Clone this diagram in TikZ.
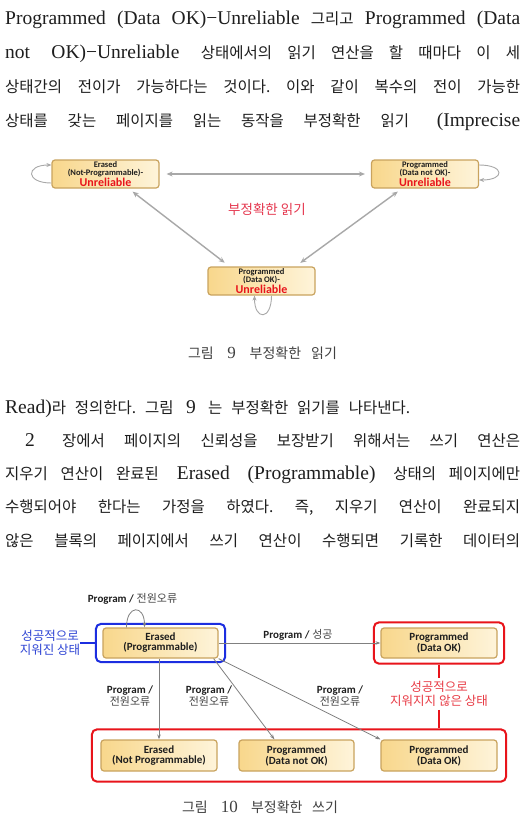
\documentclass[tikz,border=0pt]{standalone}
\usepackage{fontspec}
\setmainfont{Liberation Serif}
\newfontfamily\ko{Noto Sans CJK KR}
\newfontfamily\fig{Carlito}
\usetikzlibrary{arrows.meta,fit,calc}
\definecolor{txt}{HTML}{1E1E1E}
\definecolor{boxL}{HTML}{F8D78C}
\definecolor{boxR}{HTML}{FEF4DA}
\definecolor{boxE}{HTML}{C9A35E}
\definecolor{unrel}{HTML}{E8141B}
\definecolor{pinkred}{HTML}{E5364E}
\definecolor{arrg}{HTML}{A8A8A8}
\definecolor{arrd}{HTML}{808080}
\definecolor{frblue}{HTML}{1C2EE0}
\definecolor{txblue}{HTML}{2E44D4}
\definecolor{frred}{HTML}{E8141B}
\definecolor{txred}{HTML}{E83A44}
\definecolor{kgray}{HTML}{444444}
\newcommand\K[1]{{\ko\fontsize{15.5}{18}\selectfont #1}}
\newcommand\KC[1]{{\ko\fontsize{14}{16}\selectfont #1}}
\newcommand\PG{{\fig\bfseries Program /}}
\frenchspacing
\begin{document}
\begin{tikzpicture}[x=1pt,y=-1pt,
 body/.style={anchor=base west, inner sep=0pt, text=txt, font=\fontsize{19.5}{20}\selectfont},
 capt/.style={anchor=base, inner sep=0pt, text=txt!85, font=\fontsize{17}{18}\selectfont},
 nine/.style={draw=boxE, line width=1.2pt, rounded corners=3pt, left color=boxL, right color=boxR, minimum width=107pt, minimum height=28pt, inner sep=0pt, align=center, text=txt, font=\fig\bfseries\fontsize{8.5}{8}\selectfont},
 ten/.style={draw=boxE, line width=1.2pt, rounded corners=3pt, left color=boxL, right color=boxR, minimum width=115pt, minimum height=30pt, inner sep=0pt, align=center, text=txt, font=\fig\bfseries\fontsize{11}{10}\selectfont},
 dbl/.style={draw=arrg, line width=1.4pt, {Stealth[length=6pt,width=5pt]}-{Stealth[length=6pt,width=5pt]}},
 loopnine/.style={draw=arrg, line width=0.9pt, -{Stealth[length=5pt,width=4pt]}},
 arr/.style={draw=arrd, line width=0.8pt, -{Stealth[length=5pt,width=3.5pt]}},
 lab/.style={inner sep=0pt, align=center, text=txt, font=\fontsize{11}{12.5}\selectfont},
 frame/.style={draw, line width=2pt, rounded corners=5pt},
]
\useasboundingbox[fill=white] (0,0) rectangle (525,835);

% ---------- body text, top ----------
\node[body] (t1) at (5,24) {\hbox to 515pt{Programmed (Data OK)−Unreliable \K{그리고} Programmed (Data}};
\node[body] (t2) at (5,58) {\hbox to 515pt{not OK)−Unreliable \K{상태에서의 읽기 연산을 할 때마다 이 세}}};
\node[body] (t3) at (5,92) {\hbox to 515pt{\K{상태간의 전이가 가능하다는 것이다. 이와 같이 복수의 전이 가능한}}};
\node[body] (t4) at (5,126) {\hbox to 515pt{\K{상태를 갖는 페이지를 읽는 동작을 부정확한 읽기} (Imprecise}};

% ---------- figure 9 ----------
\node[nine] (A) at (105.5,174) {Erased\\(Not-Programmable)-\\{\color{unrel}\fontsize{12}{12}\selectfont Unreliable}};
\node[nine] (B) at (425,174) {Programmed\\(Data not OK)-\\{\color{unrel}\fontsize{12}{12}\selectfont Unreliable}};
\node[nine] (C) at (261.5,281) {Programmed\\(Data OK)-\\{\color{unrel}\fontsize{12}{12}\selectfont Unreliable}};

\draw[dbl, shorten <=7pt, shorten >=6pt] (A) -- (B);
\draw[dbl, shorten <=5pt, shorten >=6pt] ([xshift=-31pt]A.south east) -- ([xshift=-32pt]C.north);
\draw[dbl, shorten <=5pt, shorten >=6pt] ([xshift=31pt]B.south west) -- ([xshift=34pt]C.north);

\draw[loopnine] ([yshift=-9pt]A.west) .. controls +(-26pt,0pt) and +(-26pt,0pt) .. ([yshift=9pt]A.west);
\draw[loopnine] ([yshift=9pt]B.east) .. controls +(26pt,0pt) and +(26pt,0pt) .. ([yshift=-6pt]B.east);
\draw[loopnine] ([xshift=10pt]C.south) .. controls +(0pt,-25pt) and +(0pt,-25pt) .. ([xshift=-7pt]C.south);

\node[inner sep=0pt, text=pinkred, font=\ko\fontsize{13.5}{14}\selectfont] (lab9) at (267,209) {부정확한 읽기};

\node[capt] (c9) at (262.5,358) {\hbox to 149pt{\KC{그림} 9 \KC{부정확한 읽기}}};

% ---------- body text, middle ----------
\node[body] (t5) at (5,413) {\hbox to 405pt{Read)\K{라 정의한다. 그림} 9 \K{는 부정확한 읽기를 나타낸다.}}};
\node[body] (t6) at (25,446) {\hbox to 495pt{2 \K{장에서 페이지의 신뢰성을 보장받기 위해서는 쓰기 연산은}}};
\node[body] (t7) at (5,479) {\hbox to 515pt{\K{지우기 연산이 완료된} Erased (Programmable) \K{상태의 페이지에만}}};
\node[body] (t8) at (5,512) {\hbox to 515pt{\K{수행되어야 한다는 가정을 하였다. 즉, 지우기 연산이 완료되지}}};
\node[body] (t9) at (5,546) {\hbox to 515pt{\K{않은 블록의 페이지에서 쓰기 연산이 수행되면 기록한 데이터의}}};

% ---------- figure 10 ----------
\node[ten] (P) at (160.5,643) {Erased\\(Programmable)};
\node[ten, minimum width=116pt] (Q) at (439,643) {Programmed\\(Data OK)};
\node[ten, minimum width=116pt, minimum height=31pt] (R1) at (159,755.5) {Erased\\(Not Programmable)};
\node[ten, minimum height=31pt] (R2) at (296.5,755.5) {Programmed\\(Data not OK)};
\node[ten, minimum width=116pt, minimum height=31pt] (R3) at (439,755.5) {Programmed\\(Data OK)};

\node[frame, draw=frblue, fit=(P), inner xsep=6.5pt, inner ysep=3.5pt] (BF) {};
\node[frame, draw=frred, fit=(Q), inner xsep=6.5pt, inner ysep=5pt] (RF1) {};
\node[frame, draw=frred, fit=(R1)(R3), inner xsep=8.5pt, inner ysep=10pt] (RF2) {};

\draw[arr] ([xshift=-34pt]P.north) .. controls +(0pt,23pt) and +(0pt,23pt) .. ([xshift=-16pt]P.north);
\draw[arr] (P) -- (Q);
\draw[arr] (R1.north |- P.south) -- (R1.north);
\draw[arr] ([xshift=-5pt]P.south east) -- ([xshift=36pt]R2.north west);
\draw[arr] (P.south east) -- (R3.north west);

\node[lab] (l0) at (132.5,599) {\PG\ \textcolor{kgray}{\K{\fontsize{11}{12.5}\selectfont 전원오류}}};
\node[lab] (l1) at (298,635) {\PG\ \textcolor{kgray}{\K{\fontsize{11}{12.5}\selectfont 성공}}};
\node[lab] (l2) at (130,696) {\PG\\\textcolor{kgray}{\K{\fontsize{11}{12.5}\selectfont 전원오류}}};
\node[lab] (l3) at (209,696) {\PG\\\textcolor{kgray}{\K{\fontsize{11}{12.5}\selectfont 전원오류}}};
\node[lab] (l4) at (340,696) {\PG\\\textcolor{kgray}{\K{\fontsize{11}{12.5}\selectfont 전원오류}}};

\node[inner sep=0pt, align=center, text=txblue, font=\ko\fontsize{12.5}{14}\selectfont] (bl) at (50,643) {성공적으로\\지워진 상태};
\draw[frblue, line width=1.2pt] (bl.east |- BF.west) -- (BF.west);

\node[inner sep=0pt, align=center, text=txred, font=\ko\fontsize{12.5}{14}\selectfont] (rl) at (439,694) {성공적으로\\지워지지 않은 상태};
\draw[frred, line width=1.2pt] (RF1.south) -- ([yshift=3pt]rl.north);
\draw[frred, line width=1.2pt] ([yshift=-3pt]rl.south) -- (rl.south |- RF2.north);

\node[capt] (c10) at (260,812) {\hbox to 156pt{\KC{그림} 10 \KC{부정확한 쓰기}}};
\end{tikzpicture}
\end{document}
